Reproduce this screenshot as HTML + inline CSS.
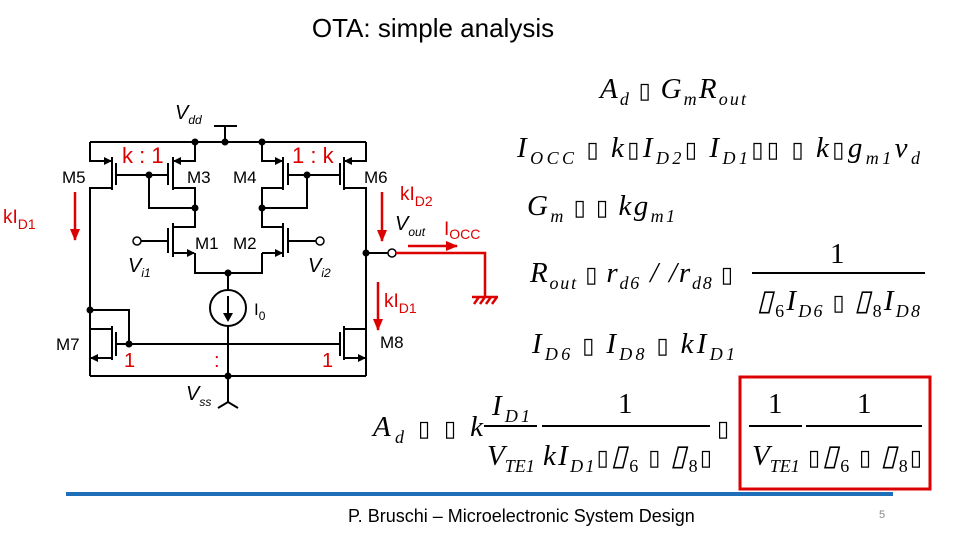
<!DOCTYPE html>
<html><head><meta charset="utf-8"><style>
html,body{margin:0;padding:0;background:#fff;}
svg{display:block}
.s{font-family:"Liberation Sans",sans-serif;}
.m{font-family:"Liberation Serif",serif;font-style:italic;font-size:29px;fill:#000}
.u{font-style:normal}
</style></head><body>
<svg width="960" height="540" viewBox="0 0 960 540" xmlns="http://www.w3.org/2000/svg">
<defs>
<marker id="ab" markerWidth="8" markerHeight="8" refX="7" refY="4" orient="auto" markerUnits="userSpaceOnUse"><path d="M0,0 L8,4 L0,8z" fill="#000"/></marker>
<marker id="ar" markerWidth="12" markerHeight="10" refX="11" refY="5" orient="auto" markerUnits="userSpaceOnUse"><path d="M0,0 L12,5 L0,10z" fill="#d00"/></marker>
</defs>
<text x="433" y="37" class="s" font-size="26" text-anchor="middle">OTA: simple analysis</text>

<g stroke="#000" stroke-width="2" fill="none">
<path d="M90,142 H366"/>
<path d="M225,142 V126 M214,126 H237"/>
<path d="M90,142 V161 H111" marker-end="url(#ab)"/>
<path d="M112,157 V190 M116,163 V185"/>
<path d="M112,188 H90 V376"/>
<path d="M116,175 H168 M149,175 V208 H195"/>
<path d="M173,157 V190 M168,163 V185"/>
<path d="M195,142 V161 H174" marker-end="url(#ab)"/>
<path d="M173,188 H195 V227 H173"/>
<path d="M173,223 V257 M168,228 V253"/>
<path d="M137,241 H168"/>
<path d="M173,253 H194" marker-end="url(#ab)"/>
<path d="M195,253 V273 H262 V253"/>
<path d="M283,223 V257 M288,228 V253"/>
<path d="M288,241 H317"/>
<path d="M262,253 H282" marker-end="url(#ab)"/>
<path d="M283,227 H262 V188 H283"/>
<path d="M283,157 V190 M288,163 V185"/>
<path d="M262,142 V161 H282" marker-end="url(#ab)"/>
<path d="M262,208 H307 V175 M288,175 H340"/>
<path d="M344,157 V190 M340,163 V185"/>
<path d="M366,142 V161 H345" marker-end="url(#ab)"/>
<path d="M344,188 H366 V376"/>
<path d="M228,273 V290 M228,326 V376"/>
<circle cx="228" cy="308" r="18"/>
<path d="M228,296 V318"/>
<path d="M90,376 H366"/>
<path d="M228,376 V402 M218,408 L228,402 L238,408"/>
<path d="M90,310 H129 V344"/>
<path d="M90,329 H112 M112,326 V360 M116,332 V356"/>
<path d="M112,358 H91" marker-end="url(#ab)"/>
<path d="M116,344 H340"/>
<path d="M366,329 H344 M344,326 V360 M340,332 V356"/>
<path d="M344,358 H365" marker-end="url(#ab)"/>
<path d="M366,253 H389"/>
</g>
<path d="M223,313 L228,322 L233,313z" fill="#000"/>
<g fill="#000">
<circle cx="195" cy="142" r="3.5"/><circle cx="225" cy="142" r="3.5"/><circle cx="262" cy="142" r="3.5"/>
<circle cx="149" cy="175" r="3.5"/><circle cx="307" cy="175" r="3.5"/>
<circle cx="195" cy="208" r="3.5"/><circle cx="262" cy="208" r="3.5"/>
<circle cx="228" cy="273" r="3.5"/><circle cx="366" cy="253" r="3.5"/>
<circle cx="90" cy="310" r="3.5"/><circle cx="129" cy="344" r="3.5"/><circle cx="228" cy="376" r="3.5"/>
</g>
<g fill="#fff" stroke="#000" stroke-width="1.5">
<circle cx="137" cy="241" r="4"/><circle cx="320" cy="241" r="4"/><circle cx="392" cy="253" r="4"/>
</g>
<g stroke="#d00" stroke-width="2.5" fill="none">
<path d="M396,253 H485 V297"/>
<path d="M472,297 H498 M474,304 L479,297 M480,304 L485,297 M486,304 L491,297 M492,304 L497,297"/>
<path d="M75,192 V240" marker-end="url(#ar)"/>
<path d="M382,192 V241" marker-end="url(#ar)"/>
<path d="M378,282 V330" marker-end="url(#ar)"/>
<path d="M408,246 H457" marker-end="url(#ar)"/>
</g>
<g class="s" fill="#d00">
<text x="122" y="163" font-size="22">k : 1</text>
<text x="292" y="163" font-size="22">1 : k</text>
<text x="124" y="367" font-size="20">1</text>
<text x="214" y="367" font-size="20">:</text>
<text x="322" y="367" font-size="20">1</text>
<text x="3" y="223" font-size="19">kI<tspan font-size="14" dy="6">D1</tspan></text>
<text x="400" y="200" font-size="19">kI<tspan font-size="14" dy="6">D2</tspan></text>
<text x="384" y="307" font-size="19">kI<tspan font-size="14" dy="6">D1</tspan></text>
<text x="444" y="235" font-size="19">I<tspan font-size="14" dy="4">OCC</tspan></text>
</g>
<g class="s" fill="#000" font-size="17">
<text x="62" y="183">M5</text><text x="187" y="183">M3</text><text x="233" y="183">M4</text><text x="364" y="183">M6</text>
<text x="195" y="249">M1</text><text x="233" y="249">M2</text>
<text x="56" y="350">M7</text><text x="380" y="348">M8</text>
<text x="254" y="315">I<tspan font-size="12" dy="5">0</tspan></text>
<g font-style="italic" font-size="20">
<text x="175" y="119">V<tspan font-size="12" dy="5">dd</tspan></text>
<text x="128" y="272">V<tspan font-size="12" dy="5">i1</tspan></text>
<text x="308" y="272">V<tspan font-size="12" dy="5">i2</tspan></text>
<text x="395" y="230">V<tspan font-size="12" dy="6">out</tspan></text>
<text x="186" y="400">V<tspan font-size="12" dy="6">ss</tspan></text>
</g>
</g>

<g class="m">
<text x="600" y="98" textLength="146" lengthAdjust="spacing">A<tspan font-size="18" dy="7">d</tspan><tspan dy="-7" class="u" font-size="22">  ▯  </tspan>G<tspan font-size="18" dy="7">m</tspan><tspan dy="-7">R</tspan><tspan font-size="18" dy="7">out</tspan></text>
<text x="517" y="157" textLength="403" lengthAdjust="spacing">I<tspan font-size="18" dy="7">OCC</tspan><tspan dy="-7" class="u" font-size="22"> ▯ </tspan> k<tspan class="u" font-size="22">▯</tspan>I<tspan font-size="18" dy="7">D2</tspan><tspan dy="-7" class="u" font-size="22">▯ </tspan> I<tspan font-size="18" dy="7">D1</tspan><tspan dy="-7" class="u" font-size="22">▯▯   ▯ </tspan>k<tspan class="u" font-size="22">▯</tspan>g<tspan font-size="18" dy="7">m1</tspan><tspan dy="-7">v</tspan><tspan font-size="18" dy="7">d</tspan></text>
<text x="527" y="215" textLength="148" lengthAdjust="spacing">G<tspan font-size="18" dy="7">m</tspan><tspan dy="-7" class="u" font-size="22"> ▯   ▯ </tspan>kg<tspan font-size="18" dy="7">m1</tspan></text>
<text x="530" y="282" textLength="203" lengthAdjust="spacing">R<tspan font-size="18" dy="7">out</tspan><tspan dy="-7" class="u" font-size="22"> ▯ </tspan> r<tspan font-size="18" dy="7">d6</tspan><tspan dy="-7"> / /</tspan>r<tspan font-size="18" dy="7">d8</tspan><tspan dy="-7" class="u" font-size="22"> ▯</tspan></text>
<text x="830" y="263" class="u">1</text>
<text x="757" y="310" textLength="163" lengthAdjust="spacing">▯<tspan font-size="18" dy="7" class="u">6</tspan><tspan dy="-7">I</tspan><tspan font-size="18" dy="7">D6</tspan><tspan dy="-7" class="u" font-size="22"> ▯ </tspan> ▯<tspan font-size="18" dy="7" class="u">8</tspan><tspan dy="-7">I</tspan><tspan font-size="18" dy="7">D8</tspan></text>
<text x="532" y="353" textLength="203" lengthAdjust="spacing">I<tspan font-size="18" dy="7">D6</tspan><tspan dy="-7" class="u" font-size="22"> ▯ </tspan> I<tspan font-size="18" dy="7">D8</tspan><tspan dy="-7" class="u" font-size="22"> ▯ </tspan> kI<tspan font-size="18" dy="7">D1</tspan></text>

<text x="373" y="436" textLength="110" lengthAdjust="spacing">A<tspan font-size="18" dy="7">d</tspan><tspan dy="-7" class="u" font-size="22"> ▯  ▯ </tspan>k</text>
<text x="492" y="415" textLength="38" lengthAdjust="spacing">I<tspan font-size="18" dy="7">D1</tspan></text>
<text x="487" y="465">V<tspan font-size="18" dy="7">TE1</tspan></text>
<text x="618" y="413" class="u">1</text>
<text x="543" y="465" textLength="169" lengthAdjust="spacing">kI<tspan font-size="18" dy="7">D1</tspan><tspan dy="-7" class="u" font-size="22">▯</tspan>▯<tspan font-size="18" dy="7" class="u">6</tspan><tspan dy="-7" class="u" font-size="22"> ▯ </tspan> ▯<tspan font-size="18" dy="7" class="u">8</tspan><tspan dy="-7" class="u" font-size="22">▯</tspan></text>
<text x="717" y="436" class="u" font-size="22">▯</text>
<text x="768" y="413" class="u">1</text>
<text x="752" y="465">V<tspan font-size="18" dy="7">TE1</tspan></text>
<text x="857" y="413" class="u">1</text>
<text x="808" y="465" textLength="114" lengthAdjust="spacing"><tspan class="u" font-size="22">▯</tspan>▯<tspan font-size="18" dy="7" class="u">6</tspan><tspan dy="-7" class="u" font-size="22"> ▯ </tspan> ▯<tspan font-size="18" dy="7" class="u">8</tspan><tspan dy="-7" class="u" font-size="22">▯</tspan></text>
</g>
<g stroke="#000" stroke-width="2">
<path d="M752,273 H925"/>
<path d="M484,426 H537 M542,426 H710 M749,426 H802 M806,426 H922"/>
</g>
<rect x="740" y="377" width="190" height="112" fill="none" stroke="#d00" stroke-width="3"/>
<rect x="66" y="492" width="827" height="4" fill="#1f6fb8"/>
<text x="348" y="522" class="s" font-size="18">P. Bruschi – Microelectronic System Design</text>
<text x="879" y="518" class="s" font-size="11" fill="#888">5</text>
</svg>
</body></html>
